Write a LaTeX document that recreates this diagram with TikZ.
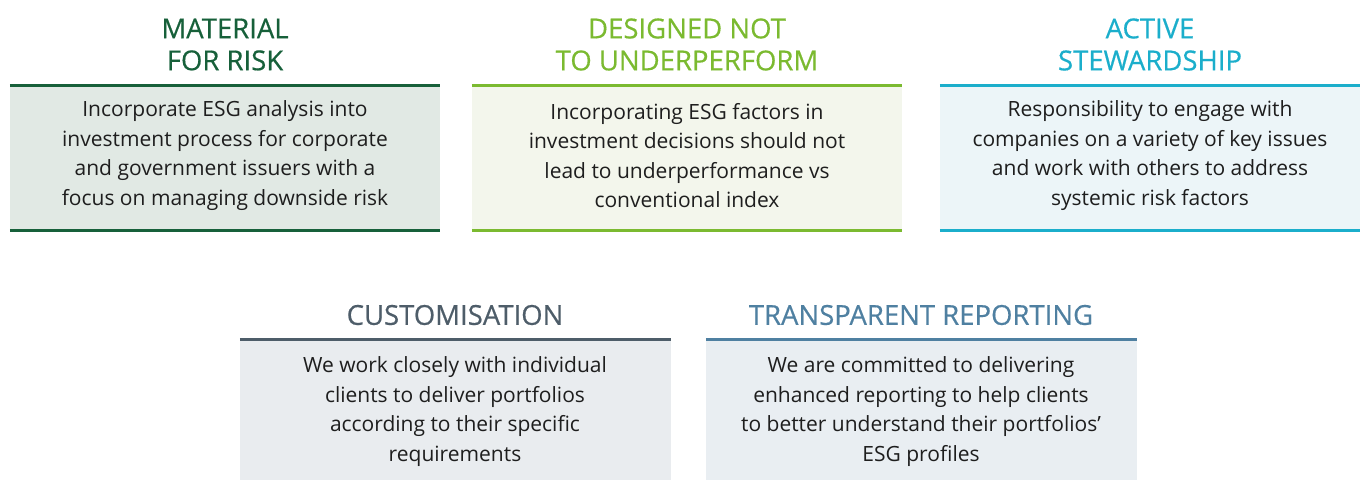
\documentclass[tikz,border=0pt]{standalone}
\usepackage{fontspec}
\setmainfont{Open Sans}
\newfontfamily\headfont[FakeBold=0.5]{Open Sans}
\definecolor{cA}{HTML}{17603A}
\definecolor{fA}{HTML}{E1E9E4}
\definecolor{cB}{HTML}{7BBA30}
\definecolor{fB}{HTML}{F3F6EC}
\definecolor{cC}{HTML}{1BAECB}
\definecolor{fC}{HTML}{ECF5F8}
\definecolor{cD}{HTML}{4E5D69}
\definecolor{fD}{HTML}{E9ECEF}
\definecolor{cE}{HTML}{4F80A1}
\definecolor{fE}{HTML}{E9EEF2}
\definecolor{txt}{HTML}{1E1E1E}
\begin{document}
\begin{tikzpicture}[x=1pt,y=-1pt,
  panel/.style={rectangle, draw=none, inner sep=0pt, minimum width=430pt},
  body/.style={align=center, text=txt, inner sep=0pt, font=\fontsize{21}{29.5}\selectfont},
  head/.style={align=center, inner sep=0pt, font=\headfont\fontsize{27.5}{32}\selectfont},
  rule/.style={line width=3pt}]
\useasboundingbox (0,0) rectangle (1360,480);
% top row panels
\node[panel, fill=fA, minimum height=144pt] (b1) at (225,158) {};
\node[panel, fill=fB, minimum height=144pt] (b2) at (687,158) {};
\node[panel, fill=fC, minimum height=144pt, minimum width=420pt] (b3) at (1150,158) {};
% bottom row panels
\node[panel, fill=fD, minimum height=140pt, minimum width=431pt] (b4) at (455.5,410) {};
\node[panel, fill=fE, minimum height=140pt, minimum width=431pt] (b5) at (921.5,410) {};
% rules
\draw[rule, cA] (b1.north west) -- (b1.north east);
\draw[rule, cA] (b1.south west) -- (b1.south east);
\draw[rule, cB] (b2.north west) -- (b2.north east);
\draw[rule, cB] (b2.south west) -- (b2.south east);
\draw[rule, cC] (b3.north west) -- (b3.north east);
\draw[rule, cC] (b3.south west) -- (b3.south east);
\draw[rule, cD] (b4.north west) -- (b4.north east);
\draw[rule, cE] (b5.north west) -- (b5.north east);
% headings
\node[head, text=cA] (h1) at (225,44.5) {MATERIAL\\FOR RISK};
\node[head, text=cB] (h2) at (687,44.5) {DESIGNED NOT\\TO UNDERPERFORM};
\node[head, text=cC] (h3) at (1150,44.5) {ACTIVE\\STEWARDSHIP};
\node[head, text=cD] (h4) at (455,315) {CUSTOMISATION};
\node[head, text=cE] (h5) at (921,315) {TRANSPARENT REPORTING};
% body texts
\node[body] (t1) at (225,155.5) {Incorporate ESG analysis into\\investment process for corporate\\and government issuers with a\\focus on managing downside risk};
\node[body] (t2) at (687,155.5) {Incorporating ESG factors in\\investment decisions should not\\lead to underperformance vs\\conventional index};
\node[body] (t3) at (1150,155.5) {Responsibility to engage with\\companies on a variety of key issues\\and work with others to address\\systemic risk factors};
\node[body] (t4) at (455,411.5) {We work closely with individual\\clients to deliver portfolios\\according to their specific\\requirements};
\node[body] (t5) at (921,411.5) {We are committed to delivering\\enhanced reporting to help clients\\to better understand their portfolios’\\ESG profiles};
\end{tikzpicture}
\end{document}
